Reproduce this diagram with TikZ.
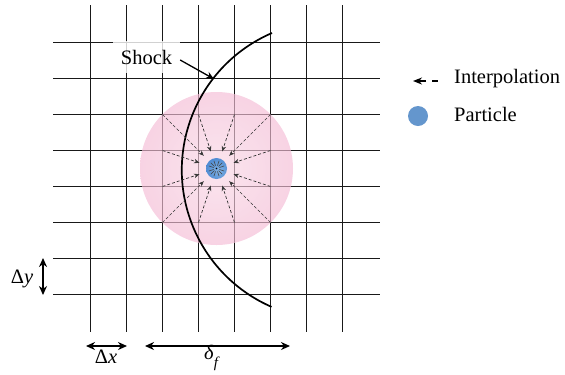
\documentclass[tikz,border=0pt]{standalone}
\usepackage{fontspec}
\setmainfont{Liberation Serif}
\newfontfamily\tnr{Liberation Serif}
\usetikzlibrary{arrows.meta,calc}
\definecolor{gridc}{RGB}{25,25,25}
\definecolor{pinkin}{RGB}{248,215,229}
\definecolor{pinkout}{RGB}{240,160,196}
\definecolor{partout}{RGB}{40,110,198}
\definecolor{partin}{RGB}{130,178,228}
\definecolor{legpart}{RGB}{100,150,205}
\definecolor{interc}{RGB}{55,55,55}
\pgfdeclareradialshading{pinkshade}{\pgfpoint{0bp}{0bp}}{color(0bp)=(pinkin); color(50bp)=(pinkout)}
\pgfdeclareradialshading{partshade}{\pgfpoint{6bp}{-6bp}}{color(0bp)=(partin); color(50bp)=(partout)}
\begin{document}
\begin{tikzpicture}[x=1bp,y=1bp,
  gridline/.style={draw=gridc,line width=1.3bp},
  interp/.style={draw=interc,line width=0.65bp,dash pattern=on 3bp off 2bp,-{Stealth[length=5.5bp,width=4.5bp]}},
  dimarrow/.style={draw=black,line width=1.8bp,{Stealth[length=9bp,width=8bp]}-{Stealth[length=9bp,width=8bp]}},
  lbl/.style={font=\tnr\fontsize{20.5bp}{24bp}\selectfont,inner sep=0pt}]
\useasboundingbox (0,0) rectangle (565,-374);
% grid
\foreach \i in {0,...,7}{
  \pgfmathsetmacro{\gx}{90.5+36*\i}
  \draw[gridline] (\gx,-5) -- (\gx,-332);
  \pgfmathsetmacro{\gy}{-42.5-36*\i}
  \draw[gridline] (53,\gy) -- (380,\gy);
}
\coordinate (P) at (216.5,-168.5);
% pink region
\begin{scope}[opacity=0.65]
\shade[shading=pinkshade] (P) circle[radius=76.5];
\end{scope}
% shock curve
\coordinate (shtop) at (272,-33);
\coordinate (shpt) at (214,-79);
\draw[black,line width=1.7bp] (shtop) arc[start angle=113.3,end angle=246.5,radius=149.2] coordinate (shbot);
% shock label
\node[lbl,fill=white,fill opacity=0.8,text opacity=1,minimum width=67bp,minimum height=32bp] (shock) at (146.5,-57) {Shock};
\draw[black,line width=1.3bp,-{Stealth[length=8bp,width=7bp]}] ([yshift=-3bp]shock.east) -- (shpt);
% interpolation arrows
\foreach \a/\b in {2/2,3/2,4/2,5/2,2/3,5/3,2/4,5/4,2/5,3/5,4/5,5/5}{
  \pgfmathsetmacro{\sx}{90.5+36*\a}
  \pgfmathsetmacro{\sy}{-42.5-36*\b}
  \coordinate (s\a\b) at (\sx,\sy);
  \draw[interp] (s\a\b) -- ($(P)!18bp!(s\a\b)$);
}
% particle
\shade[shading=partshade] (P) circle[radius=10.5];
\foreach \a/\b in {2/2,3/2,4/2,5/2,2/3,5/3,2/4,5/4,2/5,3/5,4/5,5/5}{
  \draw[black!75,line width=0.6bp] ($(P)!3bp!(s\a\b)$) -- ($(P)!8bp!(s\a\b)$);
}
\fill[black] (P) circle[radius=0.9];
% dimension arrows
\coordinate (dyA) at (43,-258); \coordinate (dyB) at (43,-295);
\draw[dimarrow] (dyA) -- (dyB);
\node[lbl] (dy) at (22,-279) {Δ\textit{y}};
\coordinate (dxA) at (86,-346); \coordinate (dxB) at (127,-346);
\draw[dimarrow] (dxA) -- (dxB);
\node[lbl] (dx) at (106,-357) {Δ\textit{x}};
\coordinate (dfA) at (145,-346); \coordinate (dfB) at (290,-346);
\draw[dimarrow] (dfA) -- (dfB);
\node[lbl] (df) at (212,-358) {\textit{δ}\raisebox{-0.38em}{\fontsize{15bp}{15bp}\selectfont\textit{f}}};
% legend
\coordinate (la) at (413,-81); \coordinate (lb) at (426,-81);
\coordinate (lc) at (432,-81); \coordinate (ld) at (438,-81);
\draw[black,line width=1.6bp,-{Stealth[length=9bp,width=7bp]}] (lb) -- (la);
\draw[black,line width=1.6bp] (lc) -- (ld);
\node[lbl,anchor=west] (linterp) at (454,-79) {Interpolation};
\fill[legpart] (418,-116) circle[radius=10];
\node[lbl,anchor=west] (lpart) at (454,-114) {Particle};
\end{tikzpicture}
\end{document}
